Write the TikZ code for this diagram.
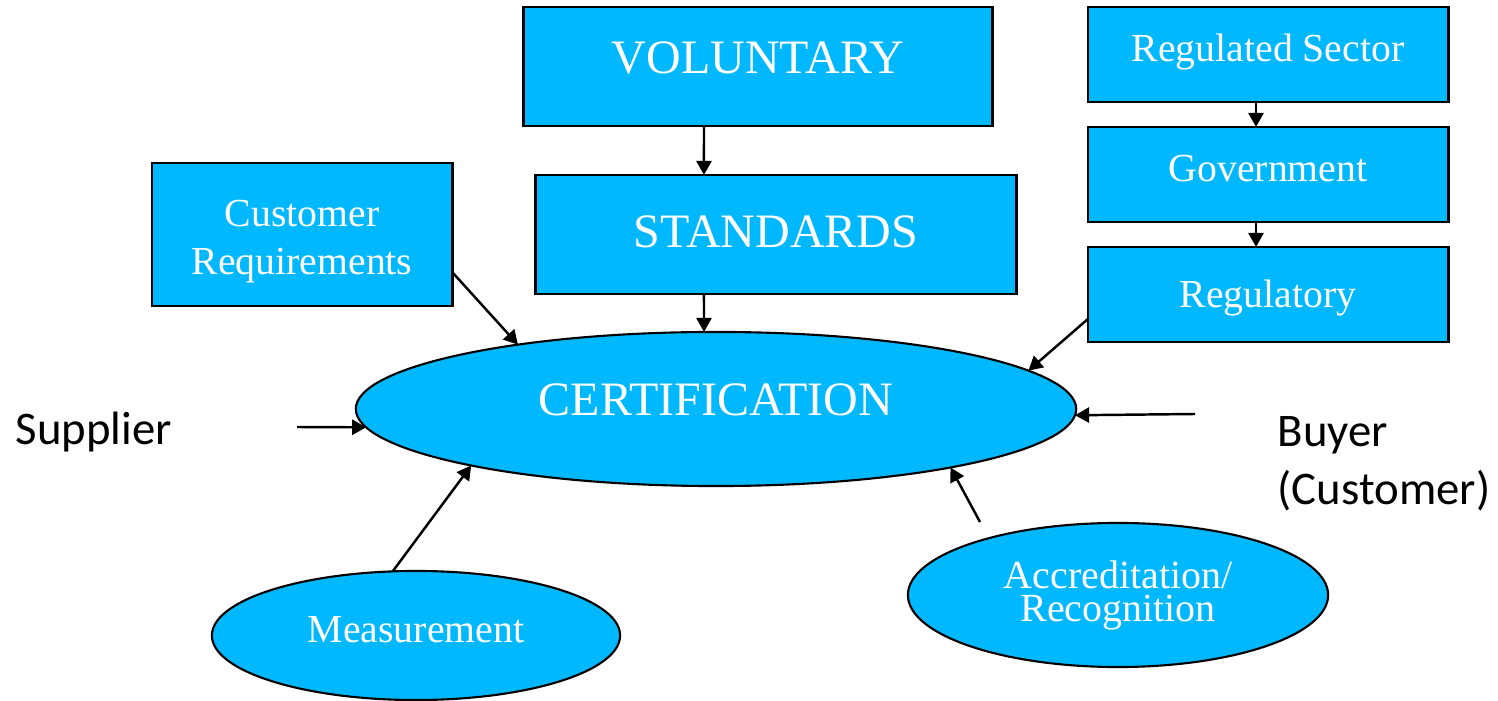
\documentclass[tikz,border=0pt]{standalone}
\usepackage{fontspec}
\setmainfont{Liberation Serif}
\newfontfamily\calibrifont{Carlito}
\usetikzlibrary{shapes.geometric,arrows.meta}
\definecolor{cfill}{RGB}{0,184,255}
\newcommand{\fsbig}{\fontsize{13.65pt}{15.5pt}\selectfont}
\newcommand{\fssmall}{\fontsize{11.3pt}{13.7pt}\selectfont}
\tikzset{
  box/.style={draw=black, line width=0.8pt, fill=cfill, text=white, inner sep=0pt, outer sep=0pt,
              text height=0.68em, text depth=0.3em},
  oval/.style={ellipse, draw=black, line width=0.6pt, fill=cfill, text=white, inner sep=0pt, outer sep=0pt,
              text height=0.68em, text depth=0.3em},
  arr/.style={-{Triangle[length=4pt,width=4.3pt]}, line width=0.7pt},
  side/.style={font=\calibrifont\fontsize{13.3pt}{16.4pt}\selectfont, text=black, inner sep=0pt}
}
\begin{document}
\begin{tikzpicture}[x=0.01cm,y=-0.01cm]
\useasboundingbox (0,0) rectangle (1498,701);
% boxes
\node[box, font=\fsbig, minimum width=4.68cm, minimum height=1.19cm] (vol) at (758,66.5) {VOLUNTARY};
\node[box, font=\fsbig, minimum width=4.80cm, minimum height=1.19cm, text height=0.9em, text depth=0.18em] (std) at (776,234.5) {STANDARDS};
\node[box, font=\fssmall, minimum width=3.60cm, minimum height=0.95cm] (rs) at (1268,54.5) {Regulated Sector};
\node[box, font=\fssmall, minimum width=3.60cm, minimum height=0.95cm] (gov) at (1268,174.5) {Government};
\node[box, font=\fssmall, minimum width=3.60cm, minimum height=0.95cm, text height=0.9em, text depth=0.14em] (reg) at (1268,294.5) {Regulatory};
\node[box, font=\fssmall, align=center, minimum width=3.00cm, minimum height=1.43cm, text height=, text depth=] (cr) at (302,234.5) {\rule{0pt}{1em}Customer\\Requirements};
% ellipses
\node[oval, font=\fsbig, minimum width=7.20cm, minimum height=1.54cm] (cert) at (716,409) {CERTIFICATION};
\node[oval, font=\fssmall, minimum width=4.08cm, minimum height=1.29cm] (meas) at (416,635.5) {Measurement};
\node[oval, font=\fontsize{11.35pt}{9.4pt}\selectfont, align=center, minimum width=4.20cm, minimum height=1.44cm, text height=, text depth=] (acc) at (1118,595) {Accreditation/\\Recognition};
% side texts
\node[side, anchor=base west] (sup) at (15,445) {Supplier};
\node[side, anchor=west, align=left] (buy) at (1277,464) {Buyer\\(Customer)};
% free ends
\coordinate (supT) at (297,427);
\coordinate (buyT) at (1195,414);
\coordinate (accT) at (980,522);
% connectors
\draw[arr] ([xshift=-0.54cm]vol.south) -- ([xshift=-0.72cm]std.north);
\draw[arr] ([xshift=-0.72cm]std.south) -- ([xshift=-0.12cm]cert.north);
\draw[arr] ([xshift=-0.12cm]rs.south) -- ([xshift=-0.12cm]gov.north);
\draw[arr] ([xshift=-0.12cm]gov.south) -- ([xshift=-0.12cm]reg.north);
\draw[arr] ([yshift=-0.375cm]cr.east) -- (cert.162.7);
\draw[arr] ([yshift=-0.245cm]reg.west) -- (cert.7.0);
\draw[arr] (supT) -- (cert.183);
\draw[arr] (buyT) -- (cert.-1);
\draw[arr] (meas.110.6) -- (cert.193.25);
\draw[arr] (accT) -- (cert.-14.4);
\end{tikzpicture}
\end{document}
